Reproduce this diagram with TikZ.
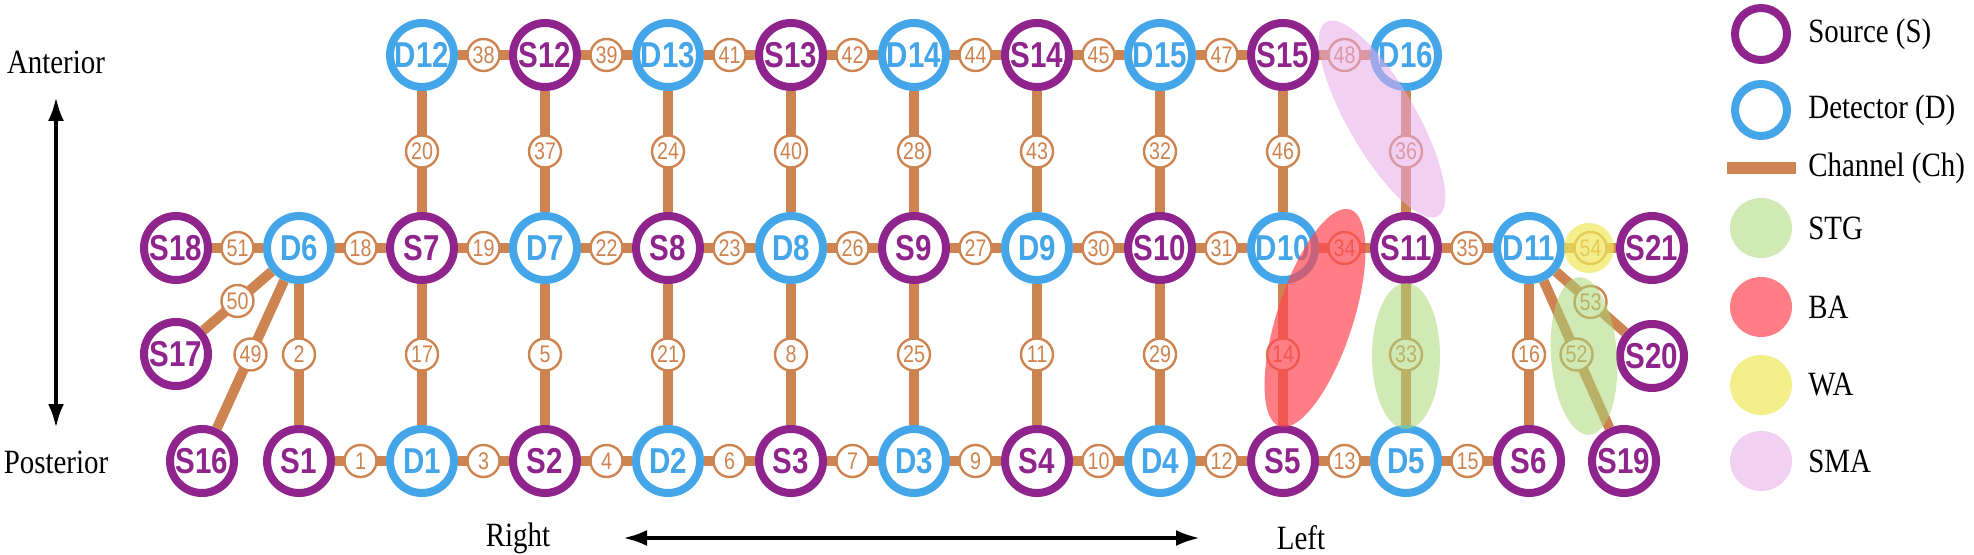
\documentclass[tikz,border=0pt]{standalone}
\usepackage{fontspec}
\setmainfont{Liberation Serif}[FakeStretch=0.85]
\newfontfamily\lsans[FakeStretch=0.82]{Liberation Sans}
\usetikzlibrary{arrows.meta}
\definecolor{pur}{RGB}{142,36,140}
\definecolor{blu}{RGB}{68,166,232}
\definecolor{chn}{RGB}{205,132,80}
\definecolor{stg}{RGB}{170,215,120}
\definecolor{ba}{RGB}{255,70,80}
\definecolor{wa}{RGB}{238,232,90}
\definecolor{sma}{RGB}{232,170,232}
\tikzset{
  src/.style={circle,draw=pur,line width=4pt,fill=white,minimum size=32pt,inner sep=0pt,text=pur,font=\lsans\bfseries\fontsize{18}{18}\selectfont},
  det/.style={src,draw=blu,text=blu},
  ch/.style={draw=chn,line width=5pt},
  lab/.style={circle,draw=chn,line width=1.2pt,fill=white,minimum size=16pt,inner sep=0pt,text=chn,font=\lsans\fontsize{12}{12}\selectfont},
  txt/.style={font=\fontsize{17}{17}\selectfont},
  ov/.style={fill opacity=0.55,draw=none}
}
\begin{document}
\begin{tikzpicture}[x=0.5pt,y=-0.5pt]
\useasboundingbox (0,0) rectangle (1974,555);
% nodes
\foreach \n/\x/\y in {S12/545/55,S13/791/55,S14/1037/55,S15/1283/55,
  S18/176/248,S7/422/248,S8/668/248,S9/914/248,S10/1160/248,S11/1406/248,S21/1652/248,
  S17/176/354,S20/1652/356,
  S16/202/461,S1/299/461,S2/545/461,S3/791/461,S4/1037/461,S5/1283/461,S6/1529/461,S19/1624/461}
  \node[src] (\n) at (\x,\y) {\n};
\foreach \n/\x/\y in {D12/422/55,D13/668/55,D14/914/55,D15/1160/55,D16/1406/55,
  D6/299/248,D7/545/248,D8/791/248,D9/1037/248,D10/1283/248,D11/1529/248,
  D1/422/461,D2/668/461,D3/914/461,D4/1160/461,D5/1406/461}
  \node[det] (\n) at (\x,\y) {\n};
% channels
\foreach \a/\b/\l in {S1/D1/1,D1/S2/3,S2/D2/4,D2/S3/6,S3/D3/7,D3/S4/9,S4/D4/10,D4/S5/12,S5/D5/13,D5/S6/15,
  S18/D6/51,D6/S7/18,S7/D7/19,D7/S8/22,S8/D8/23,D8/S9/26,S9/D9/27,D9/S10/30,S10/D10/31,D10/S11/34,S11/D11/35,D11/S21/54,
  D12/S12/38,S12/D13/39,D13/S13/41,S13/D14/42,D14/S14/44,S14/D15/45,D15/S15/47,S15/D16/48,
  D12/S7/20,S12/D7/37,D13/S8/24,S13/D8/40,D14/S9/28,S14/D9/43,D15/S10/32,S15/D10/46,D16/S11/36,
  D6/S1/2,S7/D1/17,D7/S2/5,S8/D2/21,D8/S3/8,S9/D3/25,D9/S4/11,S10/D4/29,D10/S5/14,S11/D5/33,D11/S6/16,
  D6/S17/50,D6/S16/49,D11/S20/53,D11/S19/52}
  \draw[ch] (\a) -- node[lab] {\l} (\b);
% overlays
\fill[sma,ov] (1382,119) ellipse[x radius=112,y radius=34,rotate=-60];
\fill[ba,ov,fill opacity=0.7] (1315,318) ellipse[x radius=114,y radius=38,rotate=72];
\fill[stg,ov] (1406,356) ellipse[x radius=34,y radius=73];
\fill[stg,ov] (1584,356) ellipse[x radius=33,y radius=79,rotate=4];
\fill[wa,ov,fill opacity=0.7] (1589,248) circle[radius=25];
% axes
\node[txt] (ant) at (56,62) {Anterior};
\node[txt] (post) at (56,462) {Posterior};
\draw[{Latex[length=12pt,width=8pt]}-{Latex[length=12pt,width=8pt]},line width=2pt] (56,97) -- (56,428);
\node[txt] (rt) at (518,538) {Right};
\node[txt] (lf) at (1301,538) {Left};
\draw[{Latex[length=12pt,width=8pt]}-{Latex[length=12pt,width=8pt]},line width=2pt] (623,538) -- (1200,538);
% legend
\node[src,minimum size=26pt] (ls) at (1761,34) {};
\node[det,minimum size=26pt] (ld) at (1761,110) {};
\draw[ch,line width=6pt] (1727,168) coordinate (lc1) -- (1796,168) coordinate (lc2);
\fill[stg,ov] (1761,228) ellipse[x radius=31,y radius=30];
\fill[ba,ov,fill opacity=0.7] (1761,307) ellipse[x radius=31,y radius=30];
\fill[wa,ov,fill opacity=0.7] (1761,385) ellipse[x radius=31,y radius=30];
\fill[sma,ov] (1761,461) ellipse[x radius=31,y radius=30];
\foreach \y/\t in {34/Source (S),110/Detector (D),168/Channel (Ch),228/STG,307/BA,385/WA,461/SMA}
  \node[txt,anchor=west,inner sep=0pt] at (1808,\y) {\t};
\end{tikzpicture}
\end{document}
